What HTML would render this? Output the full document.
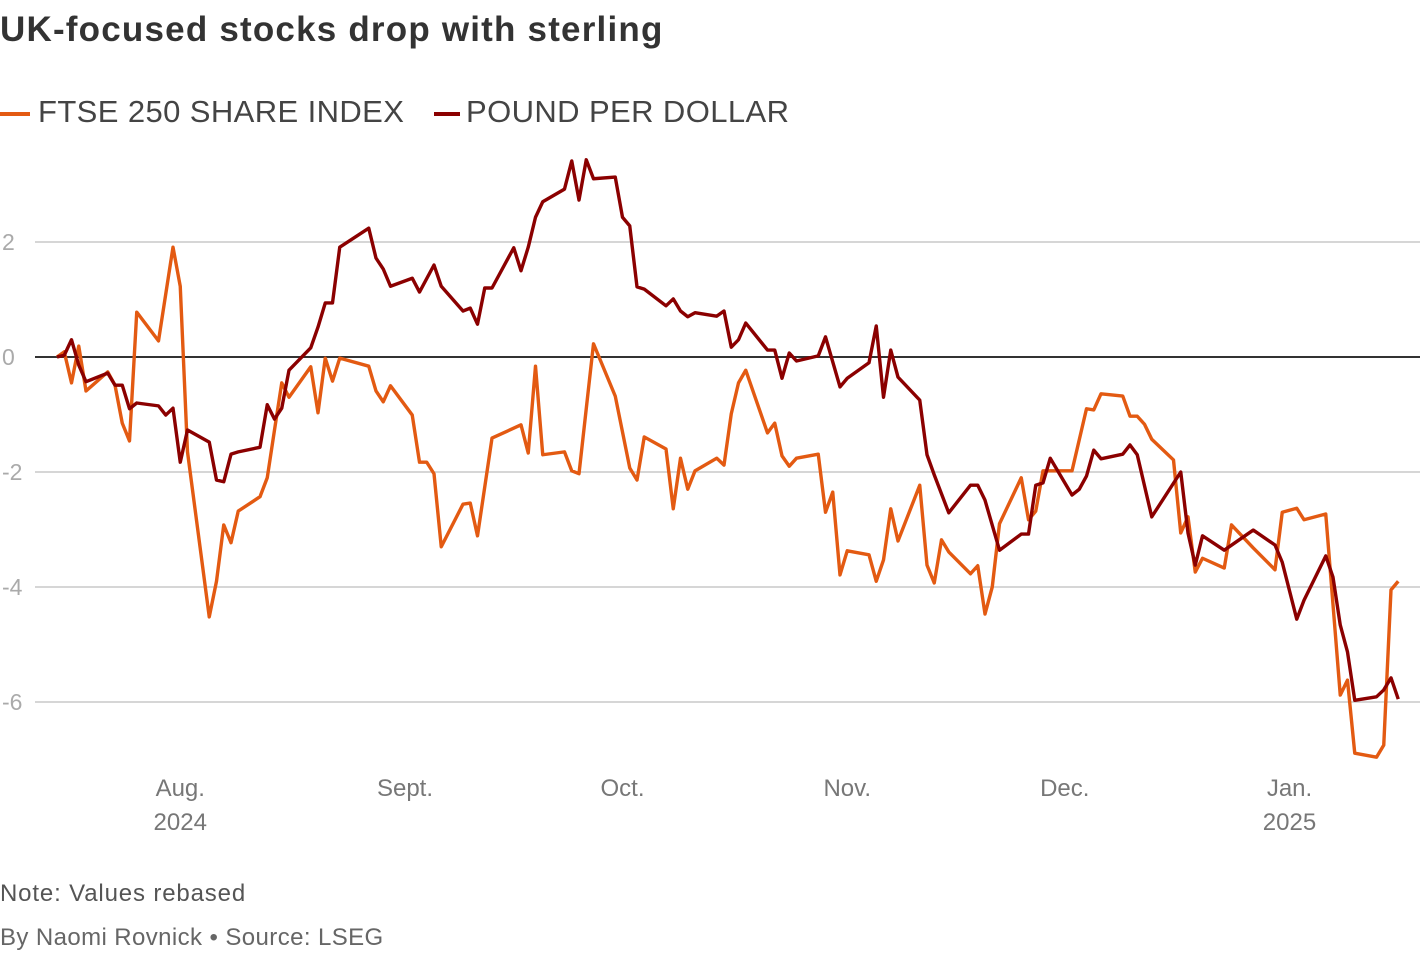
<!DOCTYPE html>
<html><head><meta charset="utf-8">
<style>
body{margin:0;width:1420px;height:954px;background:#fff;font-family:"Liberation Sans",sans-serif;overflow:hidden;position:relative}
.t{position:absolute;white-space:nowrap}
</style></head><body>
<div class="t" style="left:0;top:10px;font-size:35px;font-weight:bold;color:#333;letter-spacing:1.2px">UK-focused stocks drop with sterling</div>
<div class="t" style="left:0;top:94px;font-size:31px;color:#444;letter-spacing:0.4px"><span style="display:inline-block;width:30px;height:4px;background:#e35a12;vertical-align:middle;margin-right:8px"></span>FTSE 250 SHARE INDEX</div>
<div class="t" style="left:434px;top:94px;font-size:31px;color:#444;letter-spacing:0.4px"><span style="display:inline-block;width:26px;height:4px;background:#8b0000;vertical-align:middle;margin-right:6px"></span>POUND PER DOLLAR</div>
<svg id="chart" width="1420" height="870" style="position:absolute;left:0;top:0"></svg>
<div class="t" style="left:0;top:880px;font-size:24px;color:#555;letter-spacing:0.85px">Note: Values rebased</div>
<div class="t" style="left:0;top:924px;font-size:24px;color:#666;letter-spacing:0.4px">By Naomi Rovnick • Source: LSEG</div>
<script>
const ftseDays=[0,1,2,3,4,6,7,8,9,10,11,14,16,17,18,21,22,23,24,25,28,29,30,31,32,35,36,37,38,39,43,44,45,46,49,50,51,52,53,56,57,58,60,64,65,66,67,70,71,72,74,77,79,80,81,84,85,86,87,88,91,92,93,94,95,98,99,100,101,102,105,106,107,108,109,112,113,114,115,116,119,120,121,122,123,126,127,128,129,130,133,134,135,136,137,140,142,143,144,147,148,149,150,151,154,155,156,157,158,161,162,165,168,169,171,172,175,177,178,179,182,183,184,185];
const ftseVals=[0,0.09,-0.45,0.19,-0.59,-0.37,-0.26,-0.49,-1.15,-1.46,0.78,0.28,1.91,1.23,-1.65,-4.52,-3.90,-2.92,-3.23,-2.68,-2.43,-2.10,-1.27,-0.45,-0.70,-0.17,-0.97,-0.02,-0.42,-0.02,-0.16,-0.59,-0.78,-0.50,-1.01,-1.83,-1.83,-2.03,-3.30,-2.56,-2.54,-3.11,-1.41,-1.18,-1.67,-0.16,-1.70,-1.65,-1.98,-2.03,0.23,-0.68,-1.93,-2.14,-1.39,-1.60,-2.64,-1.76,-2.30,-1.98,-1.76,-1.88,-0.99,-0.45,-0.23,-1.32,-1.15,-1.72,-1.90,-1.76,-1.69,-2.70,-2.35,-3.79,-3.37,-3.44,-3.90,-3.53,-2.64,-3.20,-2.23,-3.62,-3.93,-3.18,-3.39,-3.77,-3.63,-4.47,-4.00,-2.90,-2.10,-2.83,-2.68,-1.98,-1.98,-1.98,-0.90,-0.92,-0.64,-0.68,-1.03,-1.03,-1.17,-1.43,-1.79,-3.06,-2.78,-3.74,-3.50,-3.67,-2.92,-3.32,-3.70,-2.70,-2.63,-2.83,-2.73,-5.88,-5.62,-6.89,-6.96,-6.75,-4.05,-3.90];
const gbpDays=[0,1,2,3,4,7,8,9,10,11,14,15,16,17,18,21,22,23,24,25,28,29,30,31,32,35,36,37,38,39,43,44,45,46,49,50,52,53,56,57,58,59,60,63,64,65,66,67,70,71,72,73,74,77,78,79,80,81,84,85,86,87,88,91,92,93,94,95,98,99,100,101,102,105,106,108,109,112,113,114,115,116,119,120,121,123,126,127,128,130,133,134,135,136,137,140,141,142,143,144,147,148,149,151,155,156,157,158,161,165,168,169,171,172,175,176,177,178,179,182,183,184,185];
const gbpVals=[0,0.03,0.30,-0.14,-0.43,-0.28,-0.49,-0.49,-0.90,-0.80,-0.85,-1.01,-0.89,-1.83,-1.27,-1.48,-2.14,-2.17,-1.69,-1.65,-1.57,-0.83,-1.08,-0.89,-0.23,0.16,0.52,0.94,0.94,1.91,2.24,1.72,1.53,1.23,1.37,1.13,1.60,1.23,0.80,0.85,0.57,1.20,1.20,1.90,1.50,1.91,2.43,2.70,2.92,3.41,2.73,3.43,3.10,3.13,2.43,2.28,1.22,1.18,0.89,1.01,0.80,0.70,0.77,0.71,0.80,0.17,0.30,0.59,0.12,0.12,-0.37,0.07,-0.07,0.02,0.35,-0.52,-0.37,-0.10,0.54,-0.70,0.12,-0.35,-0.75,-1.70,-2.05,-2.71,-2.23,-2.23,-2.49,-3.36,-3.08,-3.08,-2.23,-2.19,-1.76,-2.40,-2.30,-2.07,-1.62,-1.77,-1.69,-1.53,-1.70,-2.78,-2.00,-3.06,-3.62,-3.11,-3.36,-3.01,-3.27,-3.57,-4.56,-4.23,-3.46,-3.83,-4.66,-5.13,-5.97,-5.91,-5.79,-5.58,-5.95];
const yTicks=[2,0,-2,-4,-6];
const yTickLabels=["2","0","-2","-4","-6"];
const monthDays=[17,48,78,109,139,170];
const monthLabels=["Aug.","Sept.","Oct.","Nov.","Dec.","Jan."];
const yearLabels=["2024","","","","","2025"];

const xS=d=>57+d*7.25;
const yS=v=>357-v*57.5;
const svg=document.getElementById('chart');
const NS='http://www.w3.org/2000/svg';
function mk(tag,attrs){const e=document.createElementNS(NS,tag);for(const k in attrs)e.setAttribute(k,attrs[k]);svg.appendChild(e);return e;}
yTicks.forEach((t,i)=>{
  const l=mk('line',{x1:35,x2:1420,y1:yS(t),y2:yS(t),stroke:t===0?'#333':'#c8c8c8','stroke-width':t===0?2:1.5});
  
  
  const tx=mk('text',{x:2,y:yS(t)+8,'font-size':23,fill:'#aaa','font-family':'Liberation Sans, sans-serif'});
  tx.textContent=yTickLabels[i];
  
  
});
monthDays.forEach((d,i)=>{
  const tx=mk('text',{x:xS(d),y:796,'font-size':24,fill:'#777','text-anchor':'middle','font-family':'Liberation Sans, sans-serif'});
  tx.textContent=monthLabels[i];
  
  
  if(yearLabels[i]){
    const ty=mk('text',{x:xS(d),y:830,'font-size':24,fill:'#777','text-anchor':'middle','font-family':'Liberation Sans, sans-serif'});
    ty.textContent=yearLabels[i];
    
    
  }
});
function line(days,vals,color,name){
  const p=mk('polyline',{points:days.map((d,i)=>xS(d)+','+yS(vals[i])).join(' '),fill:'none',stroke:color,'stroke-width':3.4,'stroke-linejoin':'round'});
  
  
}
line(ftseDays,ftseVals,'#e35a12','ftse-250-line');
line(gbpDays,gbpVals,'#8b0000','pound-per-dollar-line');
</script>
</body></html>
